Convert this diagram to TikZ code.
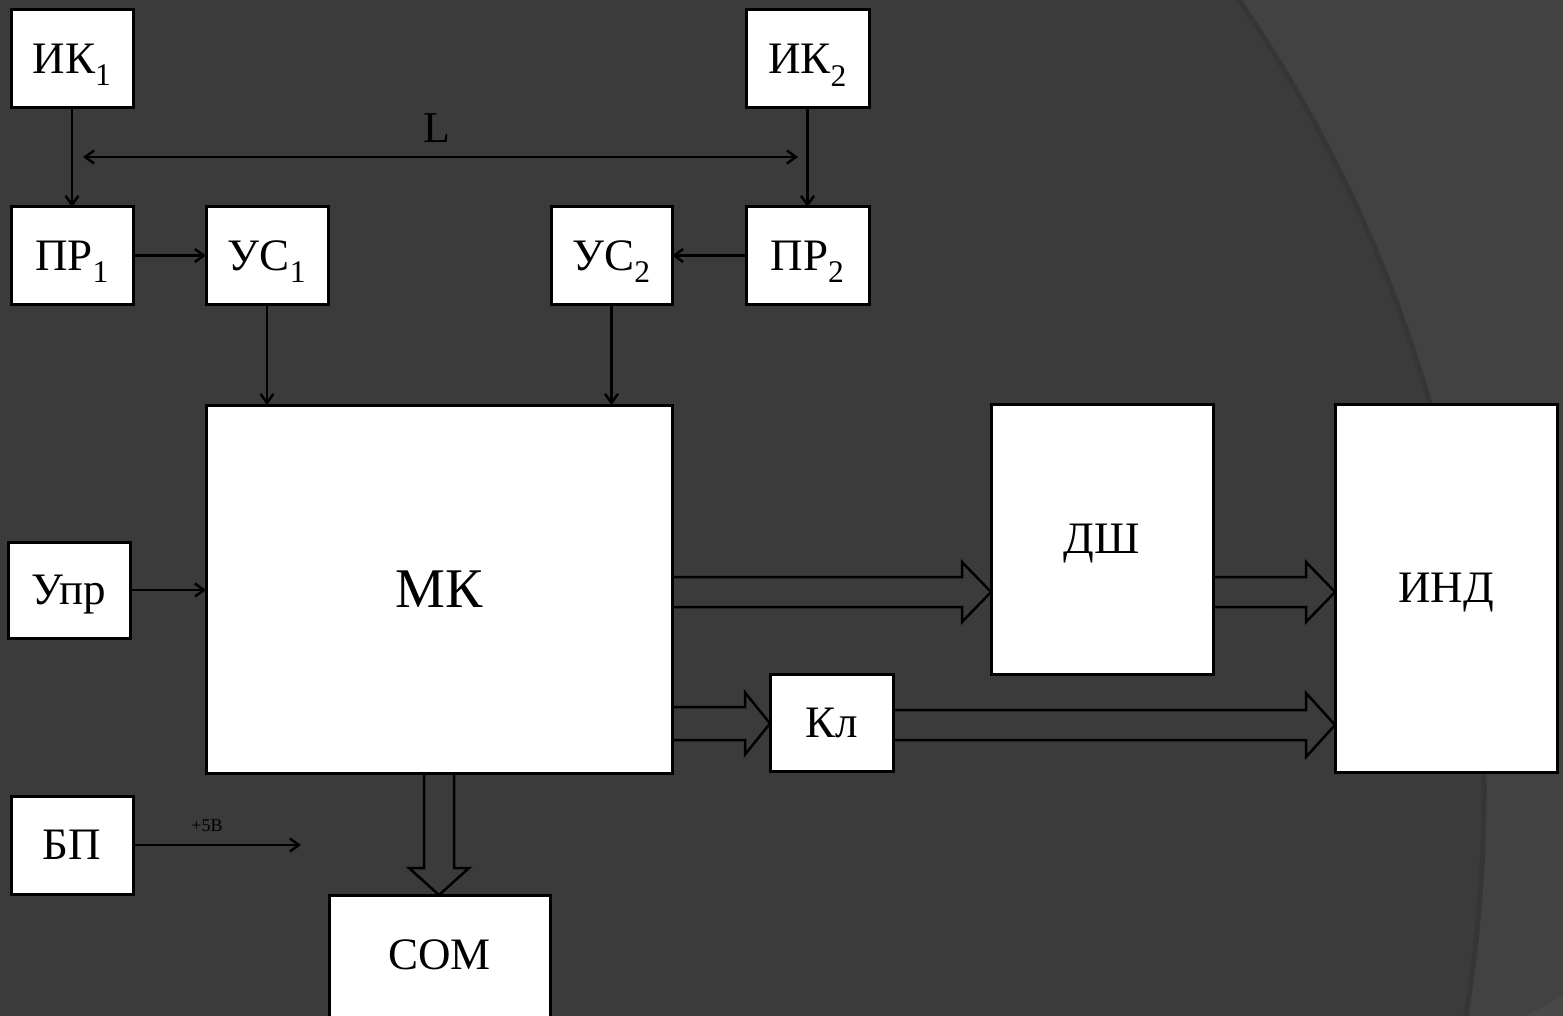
\documentclass[tikz,border=0pt]{standalone}
\usepackage{fontspec}
\setmainfont{Liberation Serif}
\usetikzlibrary{arrows.meta,calc}
\definecolor{bgA}{HTML}{424242}
\definecolor{bgB}{HTML}{3B3B3B}
\definecolor{bgS}{HTML}{363636}
\definecolor{bgC}{HTML}{484848}
\newcommand\busH[6]{\draw[bus] (#1.east |- 0,#3-#4) -- ($(#2.west |- 0,#3-#4)+(-#6,0)$) -- ($(#2.west |- 0,#3-#5)+(-#6,0)$) -- (#2.west |- 0,#3) -- ($(#2.west |- 0,#3+#5)+(-#6,0)$) -- ($(#2.west |- 0,#3+#4)+(-#6,0)$) -- (#1.east |- 0,#3+#4);}
\begin{document}
\begin{tikzpicture}[x=1pt,y=-1pt,
  blk/.style={draw=black,fill=white,line width=3pt,inner sep=0pt,outer sep=0pt,text depth=0pt,font=\fontsize{45}{50}\selectfont},
  conn/.style={draw=black,line width=2.5pt,-{Straight Barb[length=9pt,width=13pt]}},
  dconn/.style={draw=black,line width=2.5pt,{Straight Barb[length=9pt,width=13pt]}-{Straight Barb[length=9pt,width=13pt]}},
  bus/.style={draw=black,line width=2.5pt,line join=miter},
  lbl/.style={inner sep=0pt,text=black}
]
\useasboundingbox (0,0) rectangle (1563,1016);
\fill[bgA] (0,0) rectangle (1563,1016);
\begin{scope}
  \clip (0,0) rectangle (1563,1016);
  \fill[bgB] (89,790) circle (1397pt);
  \draw[bgS,line width=5pt] (89,790) circle (1395pt);
  \fill[bgC] (1527,1016) .. controls (1540,1008) and (1552,1001) .. (1563,996) -- (1563,1016) -- cycle;
\end{scope}

% blocks
\node[blk,minimum width=122pt,minimum height=98pt] (ik1) at (72,59) {ИК\textsubscript{1}};
\node[blk,minimum width=123pt,minimum height=98pt] (ik2) at (807.5,59) {ИК\textsubscript{2}};
\node[blk,minimum width=122pt,minimum height=97pt] (pr1) at (72,255.5) {ПР\textsubscript{1}};
\node[blk,minimum width=122pt,minimum height=97pt] (us1) at (267,255.5) {УС\textsubscript{1}};
\node[blk,minimum width=121pt,minimum height=97pt] (us2) at (611.5,255.5) {УС\textsubscript{2}};
\node[blk,minimum width=123pt,minimum height=97pt] (pr2) at (807.5,255.5) {ПР\textsubscript{2}};
\node[blk,minimum width=466pt,minimum height=368pt,font=\fontsize{56}{60}\selectfont] (mk) at (439,589) {МК};
\node[blk,minimum width=122pt,minimum height=96pt] (upr) at (69,590) {Упр};
\node[blk,minimum width=122pt,minimum height=98pt] (bp) at (72,845) {БП};
\node[blk,minimum width=221pt,minimum height=130pt,text depth=10pt] (com) at (439.5,960) {СОМ};
\node[blk,minimum width=222pt,minimum height=270pt] (dsh) at (1102,539) {ДШ};
\node[blk,minimum width=222pt,minimum height=368pt] (ind) at (1446,588) {ИНД};
\node[blk,minimum width=123pt,minimum height=97pt] (kl) at (831.5,722.5) {Кл};

% simple connectors
\draw[conn] (ik1) -- (pr1);
\draw[conn] (ik2) -- (pr2);
\coordinate (la) at (83,157);
\coordinate (lb) at (798,157);
\draw[dconn] (la) -- (lb);
\node[lbl,font=\fontsize{44}{48}\selectfont] (Ltxt) at (437,128) {L};
\draw[conn] (pr1) -- (us1);
\draw[conn] (pr2) -- (us2);
\draw[conn] (us1) -- (us1 |- mk.north);
\draw[conn] (us2) -- (us2 |- mk.north);
\draw[conn] (upr) -- (upr -| mk.west);
\coordinate (p5) at (301,845);
\draw[conn] (bp) -- (p5);
\node[lbl,font=\fontsize{18}{20}\selectfont] (v5) at (207,826) {+5В};

% bus arrows
\busH{mk}{dsh}{592}{15}{30}{29}
\busH{dsh}{ind}{592}{15}{30}{29}
\busH{mk}{kl}{723.5}{16.5}{31}{25}
\busH{kl}{ind}{725}{15}{32}{29}
\draw[bus] (mk.south -| 424,0) -- ($(com.north -| 424,0)+(0,-27)$) -- ($(com.north -| 409,0)+(0,-27)$) -- (com.north -| 439,0) -- ($(com.north -| 469,0)+(0,-27)$) -- ($(com.north -| 454,0)+(0,-27)$) -- (mk.south -| 454,0);
\end{tikzpicture}
\end{document}
